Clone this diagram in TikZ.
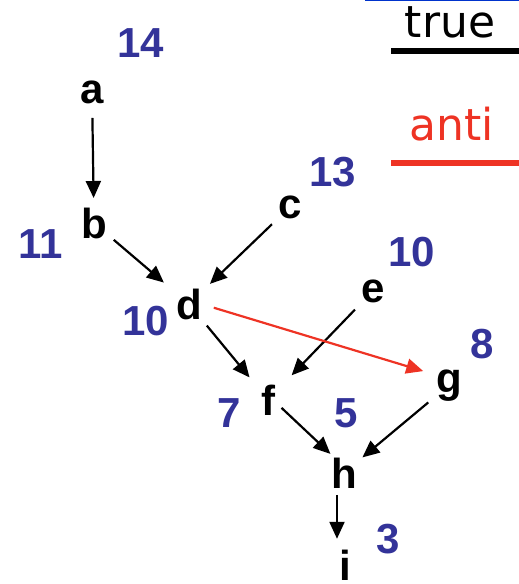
\documentclass[tikz,border=0pt]{standalone}
\usepackage{fontspec}
\setmainfont{Liberation Sans}
\newfontfamily\comicfont{DejaVu Sans}
\usetikzlibrary{arrows.meta,calc}
\definecolor{numblue}{RGB}{51,51,153}
\definecolor{antired}{RGB}{238,51,36}
\definecolor{topblue}{RGB}{0,51,204}
\begin{document}
\begin{tikzpicture}[x=1pt,y=-1pt,
  vtx/.style={font=\fontsize{42}{42}\selectfont\bfseries, anchor=base, inner sep=0pt},
  num/.style={font=\fontsize{42}{42}\selectfont\bfseries, text=numblue, anchor=base, inner sep=0pt},
  lbl/.style={font=\comicfont\fontsize{44}{44}\selectfont, anchor=base, inner sep=0pt},
  edge/.style={line width=2.2pt, -{Triangle[length=17pt,width=15pt]}},
  antiedge/.style={edge, draw=antired, fill=antired}
]
\useasboundingbox (0,0) rectangle (519,584);
% vertices
\node[vtx] (a) at (92,103) {a};
\node[vtx] (b) at (94,238) {b};
\node[vtx] (c) at (290,218) {c};
\node[vtx] (d) at (189,319) {d};
\node[vtx] (e) at (373,302) {e};
\node[vtx] (f) at (268,415) {f};
\node[vtx] (g) at (449,392) {g};
\node[vtx] (h) at (344,488) {h};
\node[vtx] (i) at (345,580) {i};
% numbers
\node[num] (n14) at (141,57) {14};
\node[num] (n11) at (41,258) {11};
\node[num] (n13) at (333,186) {13};
\node[num] (n10d) at (146,335) {10};
\node[num] (n10e) at (412,266) {10};
\node[num] (n8) at (482,358) {8};
\node[num] (n7) at (229,427) {7};
\node[num] (n5) at (346,427) {5};
\node[num] (n3) at (388,553) {3};
% legend
\node[lbl] (true) at (450,37) {true};
\node[lbl, text=antired] (anti) at (452,140) {anti};
\coordinate (tl1) at (391,51);
\coordinate (tl2) at (519,51);
\coordinate (al1) at (391,163);
\coordinate (al2) at (519,163);
\coordinate (bl1) at (365,0.6);
\coordinate (bl2) at (519,0.6);
\draw[line width=5.5pt] (tl1) -- (tl2);
\draw[line width=6pt, antired] (al1) -- (al2);
\draw[line width=1.2pt, topblue] (bl1) -- (bl2);
% edges
\draw[edge] ($(a)!26pt!(b)$) -- ($(b)!25pt!(a)$);
\draw[edge] ($(b)!26pt!(d)$) -- ($(d)!33pt!(b)$);
\draw[edge] ($(c)!25pt!(d)$) -- ($(d)!29pt!(c)$);
\draw[edge] ($(d)!28pt!(f)$) -- ($(f)!29pt!(d)$);
\draw[edge] ($(e)!26pt!(f)$) -- ($(f)!34pt!(e)$);
\draw[antiedge] ($(d)!26pt!(g)+(0,-4)$) -- ($(g)!27pt!(d)+(0,-6)$);
\draw[edge] ($(f)!16pt!(h)+(2,-3)$) -- ($(h)!23pt!(f)+(3,-3)$);
\draw[edge] ($(g)!27pt!(h)$) -- ($(h)!24pt!(g)$);
\draw[edge] ($(h)+(-7,22)$) -- ($(i)+(-8,-26)$);
\end{tikzpicture}
\end{document}
